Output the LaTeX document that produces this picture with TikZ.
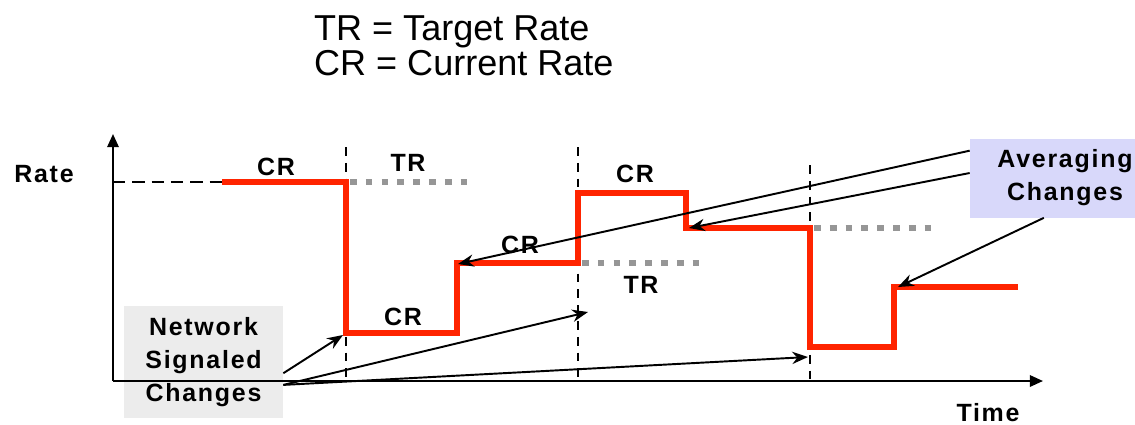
\documentclass[tikz,border=0pt]{standalone}
\usepackage{fontspec}
\setmainfont{Liberation Sans}
\newfontfamily\lblfont[LetterSpace=7]{Liberation Sans}
\usetikzlibrary{arrows.meta}
\definecolor{ratered}{RGB}{255,36,0}
\definecolor{tgtgray}{RGB}{150,150,150}
\definecolor{netgray}{RGB}{236,236,236}
\definecolor{avgblue}{RGB}{216,216,250}

\begin{document}
\begin{tikzpicture}[x=0.02cm,y=-0.02cm,line join=miter,
  lbl/.style={font=\lblfont\bfseries\fontsize{14.2}{18.8}\selectfont},
  callout/.style={line width=1.1pt,-{Stealth[length=9pt,width=7pt]}},
  axis/.style={line width=1.2pt,-{Triangle[length=7.5pt,width=6.5pt]}}]
\useasboundingbox (0,0) rectangle (1135,424);
\node[font=\fontsize{20.5}{24}\selectfont,anchor=base west] (legtr) at (308,40) {TR = Target Rate};
\node[font=\fontsize{20.5}{24}\selectfont,anchor=base west] (legcr) at (308,75) {CR = Current Rate};
\node[lbl,fill=netgray,align=center,minimum width=3.18cm,minimum height=2.24cm] (netbox) at (203.5,362) {Network\\Signaled\\Changes};
\node[lbl,fill=avgblue,align=center,minimum width=3.8cm,minimum height=1.58cm] (avgbox) at (1065,178) {Averaging\\Changes};
\draw[axis] (113,381) -- (113,134);
\draw[axis] (113,381) -- (1043,381);
\draw[line width=1.2pt,dash pattern=on 7pt off 4pt] (113,182) -- (222,182);
\draw[line width=1.2pt,dash pattern=on 5pt off 4pt] (346,147) -- (346,381);
\draw[line width=1.2pt,dash pattern=on 5pt off 4pt] (578,147) -- (578,381);
\draw[line width=1.2pt,dash pattern=on 5pt off 4pt] (810,165) -- (810,381);
\draw[tgtgray,line width=3.6pt,dash pattern=on 3.8pt off 5.2pt] (350,182) -- (467,182);
\draw[tgtgray,line width=3.6pt,dash pattern=on 3.8pt off 5.2pt] (582,263) -- (700,263);
\draw[tgtgray,line width=3.6pt,dash pattern=on 3.8pt off 5.2pt] (814,228) -- (935,228);
\draw[ratered,line width=3.8pt] (222,182) -- (346,182) -- (346,333) -- (457,333) -- (457,263) -- (578,263) -- (578,193) -- (686,193) -- (686,228) -- (810,228) -- (810,347) -- (894,347) -- (894,287) -- (1018,287);
\node[lbl,anchor=base] (ratelbl) at (44,182) {Rate};
\node[lbl,anchor=base] (timelbl) at (988,421) {Time};
\node[lbl,anchor=base] (cr1) at (276,175) {CR};
\node[lbl,anchor=base] (tr1) at (408,171) {TR};
\node[lbl,anchor=base] (cr2) at (403,325) {CR};
\node[lbl,anchor=base] (cr3) at (520,253) {CR};
\node[lbl,anchor=base] (cr4) at (635,182) {CR};
\node[lbl,anchor=base] (tr2) at (641,293) {TR};
\coordinate (chg1) at (343,335);
\coordinate (chg2) at (588,312);
\coordinate (chg3) at (808,357);
\coordinate (avg1) at (458,264);
\coordinate (avg2) at (689,228);
\coordinate (avg3) at (898,287);
\draw[callout] (netbox.-8.5) -- (chg1);
\draw[callout] (netbox.-16.5) -- (chg2);
\draw[callout] (netbox.-16.5) -- (chg3);
\draw[callout] (avgbox.164) -- (avg1);
\draw[callout] (avgbox.177.6) -- (avg2);
\draw[callout] (avgbox.242) -- (avg3);
\end{tikzpicture}
\end{document}
